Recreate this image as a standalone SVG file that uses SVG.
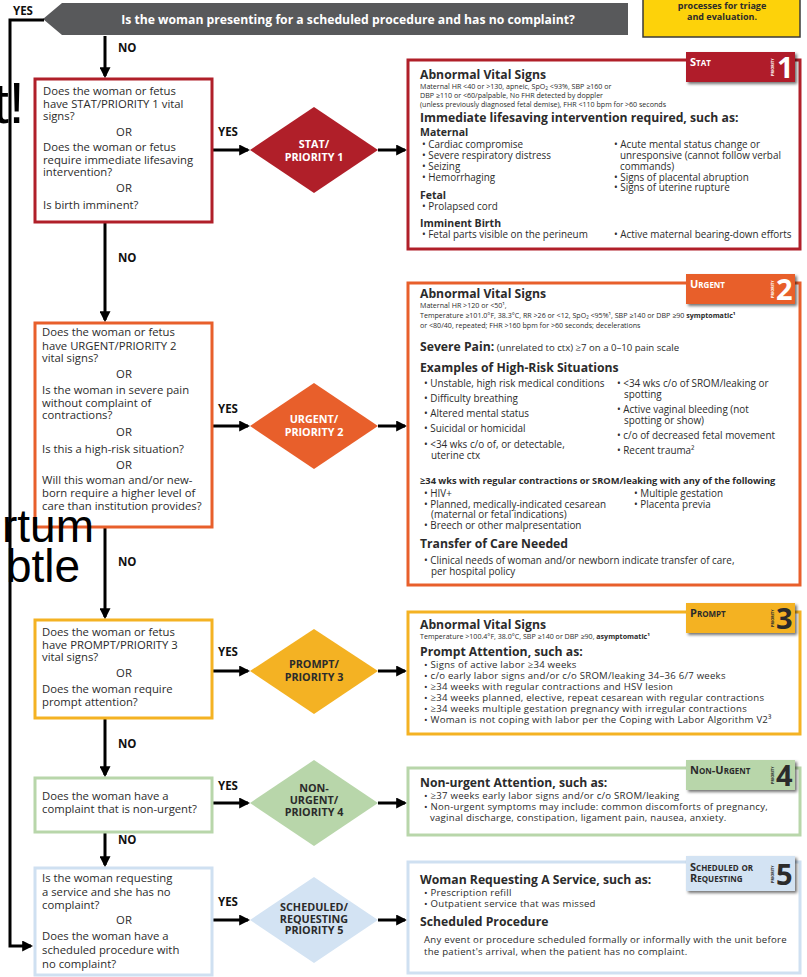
<svg xmlns="http://www.w3.org/2000/svg" width="807" height="977" viewBox="0 0 807 977">
<style>
text{font-family:"Open Sans","Liberation Sans",Arial,sans-serif;fill:#2b2b2b}
.q{font-size:11.3px}
.c{text-anchor:middle}
.h{font-size:12.2px;font-weight:bold}
.m{font-size:10.5px;font-weight:bold}
.s{font-size:7.1px}
.b{font-size:9.9px}
.p{font-size:9.6px;letter-spacing:0.25px}
.y{font-size:11.5px;font-weight:bold;fill:#111}
.dt{font-size:10.8px;font-weight:bold;text-anchor:middle}
.tl{font-size:11px;font-weight:bold;font-variant:small-caps}
.pr{font-size:3.8px;font-weight:bold}
.num{font-size:29px;font-weight:bold}
.ov{font-family:"Liberation Sans",Arial,sans-serif;fill:#000}
.ln{fill:none;stroke:#000;stroke-width:3}
.box{fill:#fff;stroke-width:3}
</style>
<defs>
<marker id="ah" viewBox="0 0 10 10" refX="8" refY="5" markerWidth="11" markerHeight="11" markerUnits="userSpaceOnUse" orient="auto">
<path d="M0,0 L10,5 L0,10 z" fill="#000"/>
</marker>
<filter id="sh" x="-10%" y="-20%" width="130%" height="150%">
<feDropShadow dx="2" dy="2" stdDeviation="1.6" flood-color="#000" flood-opacity="0.55"/>
</filter>
</defs>
<rect width="807" height="977" fill="#fff"/>

<g id="banner">
<path d="M43,19 L62,3 H628 V35 H62 Z" fill="#58595b"/>
<text x="348" y="23.5" class="c" style="font-size:12.2px;font-weight:bold;fill:#fff">Is the woman presenting for a scheduled procedure and has no complaint?</text>
</g>
<g id="note">
<rect x="643" y="-3" width="157" height="40" fill="#fdd20a" stroke="#3a3a3a" stroke-width="1.5"/>
<text x="722" y="9" class="c" style="font-size:9px;font-weight:bold;fill:#2b2b2b">processes for triage</text>
<text x="722" y="20" class="c" style="font-size:9px;font-weight:bold;fill:#2b2b2b">and evaluation.</text>
</g>

<g id="connectors">
<path class="ln" d="M44,20 H10 V946 H31" marker-end="url(#ah)"/>
<path class="ln" d="M105,36 V76" marker-end="url(#ah)"/>
<path class="ln" d="M105,222 V320" marker-end="url(#ah)"/>
<path class="ln" d="M105,528 V617" marker-end="url(#ah)"/>
<path class="ln" d="M105,719 V775" marker-end="url(#ah)"/>
<path class="ln" d="M105,833 V865" marker-end="url(#ah)"/>
<path class="ln" d="M213,150 H248" marker-end="url(#ah)"/>
<path class="ln" d="M213,426 H248" marker-end="url(#ah)"/>
<path class="ln" d="M213,671 H248" marker-end="url(#ah)"/>
<path class="ln" d="M213,803 H248" marker-end="url(#ah)"/>
<path class="ln" d="M213,920 H248" marker-end="url(#ah)"/>
<path class="ln" d="M378,150 H405" marker-end="url(#ah)"/>
<path class="ln" d="M378,426 H405" marker-end="url(#ah)"/>
<path class="ln" d="M378,671 H405" marker-end="url(#ah)"/>
<path class="ln" d="M378,803 H405" marker-end="url(#ah)"/>
<path class="ln" d="M378,920 H405" marker-end="url(#ah)"/>
<text x="13" y="15" class="y">YES</text>
<text x="118" y="52" class="y">NO</text>
<text x="118" y="262" class="y">NO</text>
<text x="118" y="566" class="y">NO</text>
<text x="118" y="748" class="y">NO</text>
<text x="118" y="844" class="y">NO</text>
<text x="218" y="136" class="y">YES</text>
<text x="218" y="413" class="y">YES</text>
<text x="218" y="656" class="y">YES</text>
<text x="218" y="790" class="y">YES</text>
<text x="218" y="906" class="y">YES</text>
</g>

<g id="q1">
<rect x="35" y="79" width="177" height="143" class="box" stroke="#b01f29"/>
<text class="q" x="43" y="95">Does the woman or fetus</text>
<text class="q" x="43" y="107.5">have STAT/PRIORITY 1 vital</text>
<text class="q" x="43" y="120">signs?</text>
<text class="q c" x="124" y="136">OR</text>
<text class="q" x="43" y="151">Does the woman or fetus</text>
<text class="q" x="43" y="163.5">require immediate lifesaving</text>
<text class="q" x="43" y="176">intervention?</text>
<text class="q c" x="124" y="192">OR</text>
<text class="q" x="43" y="209">Is birth imminent?</text>
</g>
<g id="d1">
<path d="M250,150 L314,107 L378,150 L314,193 Z" fill="#b01f29"/>
<text class="dt" x="314" y="148" style="fill:#fff">STAT/</text>
<text class="dt" x="314" y="160.5" style="fill:#fff">PRIORITY 1</text>
</g>
<g id="r1">
<rect x="408" y="60" width="392" height="189" class="box" stroke="#b01f29"/>
<text class="h" x="420" y="79">Abnormal Vital Signs</text>
<text class="s" x="420" y="88.5">Maternal HR &lt;40 or &gt;130, apneic, SpO<tspan font-size="4.8" dy="1.5">2</tspan><tspan dy="-1.5"> &lt;93%, SBP ≥160 or</tspan></text>
<text class="s" x="420" y="97.5">DBP ≥110 or &lt;60/palpable, No FHR detected by doppler</text>
<text class="s" x="420" y="106.5">(unless previously diagnosed fetal demise), FHR &lt;110 bpm for &gt;60 seconds</text>
<text class="h" x="420" y="122">Immediate lifesaving intervention required, such as:</text>
<text class="m" x="420" y="136">Maternal</text>
<text class="b" x="422" y="148">• Cardiac compromise</text>
<text class="b" x="422" y="159">• Severe respiratory distress</text>
<text class="b" x="422" y="170">• Seizing</text>
<text class="b" x="422" y="181">• Hemorrhaging</text>
<text class="b" x="614" y="148">• Acute mental status change or</text>
<text class="b" x="620" y="159">unresponsive (cannot follow verbal</text>
<text class="b" x="620" y="170">commands)</text>
<text class="b" x="614" y="181">• Signs of placental abruption</text>
<text class="b" x="614" y="191">• Signs of uterine rupture</text>
<text class="m" x="420" y="199">Fetal</text>
<text class="b" x="422" y="210">• Prolapsed cord</text>
<text class="m" x="420" y="227">Imminent Birth</text>
<text class="b" x="422" y="238">• Fetal parts visible on the perineum</text>
<text class="b" x="614" y="238">• Active maternal bearing-down efforts</text>
<rect x="686" y="52" width="109" height="30" fill="#b01f29" filter="url(#sh)"/>
<text class="tl" x="690" y="66" style="fill:#fff">Stat</text>
<text class="pr" transform="translate(774,76) rotate(-90)" style="fill:#fff">PRIORITY</text>
<text class="num" x="777" y="78" style="fill:#fff">1</text>
</g>

<g id="q2">
<rect x="35" y="323" width="177" height="204" class="box" stroke="#e85f2b"/>
<text class="q" x="42" y="336">Does the woman or fetus</text>
<text class="q" x="42" y="349.5">have URGENT/PRIORITY 2</text>
<text class="q" x="42" y="362">vital signs?</text>
<text class="q c" x="124" y="378">OR</text>
<text class="q" x="42" y="394">Is the woman in severe pain</text>
<text class="q" x="42" y="406.5">without complaint of</text>
<text class="q" x="42" y="419">contractions?</text>
<text class="q c" x="124" y="436">OR</text>
<text class="q" x="42" y="452.5">Is this a high-risk situation?</text>
<text class="q c" x="124" y="469">OR</text>
<text class="q" x="42" y="484">Will this woman and/or new-</text>
<text class="q" x="42" y="497">born require a higher level of</text>
<text class="q" x="42" y="510">care than institution provides?</text>
</g>
<g id="d2">
<path d="M250,426 L314,383 L378,426 L314,469 Z" fill="#e85f2b"/>
<text class="dt" x="314" y="423" style="fill:#fff">URGENT/</text>
<text class="dt" x="314" y="435.5" style="fill:#fff">PRIORITY 2</text>
</g>
<g id="r2">
<rect x="408" y="283" width="392" height="302" class="box" stroke="#e85f2b"/>
<text class="h" x="420" y="298">Abnormal Vital Signs</text>
<text class="s" x="420" y="307.5">Maternal HR &gt;120 or &lt;50¹,</text>
<text class="s" x="420" y="318">Temperature ≥101.0°F, 38.3°C, RR &gt;26 or &lt;12, SpO₂ &lt;95%¹, SBP ≥140 or DBP ≥90 <tspan font-weight="bold">symptomatic¹</tspan></text>
<text class="s" x="420" y="327.5">or &lt;80/40, repeated; FHR &gt;160 bpm for &gt;60 seconds; decelerations</text>
<text class="h" x="420" y="351">Severe Pain:<tspan style="font-size:9.6px;font-weight:normal"> (unrelated to ctx) ≥7 on a 0–10 pain scale</tspan></text>
<text class="h" x="420" y="372">Examples of High-Risk Situations</text>
<text class="b" x="424" y="387">• Unstable, high risk medical conditions</text>
<text class="b" x="424" y="402">• Difficulty breathing</text>
<text class="b" x="424" y="417">• Altered mental status</text>
<text class="b" x="424" y="432">• Suicidal or homicidal</text>
<text class="b" x="424" y="448">• &lt;34 wks c/o of, or detectable,</text>
<text class="b" x="431" y="459">uterine ctx</text>
<text class="b" x="617" y="387">• &lt;34 wks c/o of SROM/leaking or</text>
<text class="b" x="624" y="398">spotting</text>
<text class="b" x="617" y="413">• Active vaginal bleeding (not</text>
<text class="b" x="624" y="424">spotting or show)</text>
<text class="b" x="617" y="439">• c/o of decreased fetal movement</text>
<text class="b" x="617" y="454">• Recent trauma²</text>
<text x="420" y="484" style="font-size:9.3px;font-weight:bold">≥34 wks with regular contractions or SROM/leaking with any of the following</text>
<text class="b" x="424" y="497">•  HIV+</text>
<text class="b" x="424" y="507.5">•  Planned, medically-indicated cesarean</text>
<text class="b" x="431" y="518">(maternal or fetal indications)</text>
<text class="b" x="424" y="528.5">•  Breech or other malpresentation</text>
<text class="b" x="634" y="497">• Multiple gestation</text>
<text class="b" x="634" y="507.5">• Placenta previa</text>
<text class="h" x="420" y="548">Transfer of Care Needed</text>
<text class="b" x="424" y="564">•  Clinical needs of woman and/or newborn indicate transfer of care,</text>
<text class="b" x="431" y="575">per hospital policy</text>
<rect x="686" y="274" width="109" height="30" fill="#e85f2b" filter="url(#sh)"/>
<text class="tl" x="690" y="288" style="fill:#fff">Urgent</text>
<text class="pr" transform="translate(774,298) rotate(-90)" style="fill:#fff">PRIORITY</text>
<text class="num" x="776" y="300" style="fill:#fff">2</text>
</g>

<g id="q3">
<rect x="35" y="620" width="177" height="98" class="box" stroke="#f4b223"/>
<text class="q" x="42" y="636">Does the woman or fetus</text>
<text class="q" x="42" y="649">have PROMPT/PRIORITY 3</text>
<text class="q" x="42" y="661">vital signs?</text>
<text class="q c" x="124" y="677">OR</text>
<text class="q" x="42" y="693">Does the woman require</text>
<text class="q" x="42" y="706">prompt attention?</text>
</g>
<g id="d3">
<path d="M250,671 L314,629 L378,671 L314,714 Z" fill="#f4b223"/>
<text class="dt" x="314" y="668">PROMPT/</text>
<text class="dt" x="314" y="680.5">PRIORITY 3</text>
</g>
<g id="r3">
<rect x="408" y="612" width="392" height="122" class="box" stroke="#f4b223"/>
<text class="h" x="420" y="629">Abnormal Vital Signs</text>
<text class="s" x="420" y="638.5">Temperature &gt;100.4°F, 38.0°C, SBP ≥140 or DBP ≥90, <tspan font-weight="bold">asymptomatic¹</tspan></text>
<text class="h" x="420" y="656">Prompt Attention, such as:</text>
<text class="p" x="424" y="668">• Signs of active labor ≥34 weeks</text>
<text class="p" x="424" y="679">• c/o early labor signs and/or c/o SROM/leaking 34–36 6/7 weeks</text>
<text class="p" x="424" y="690">• ≥34 weeks with regular contractions and HSV lesion</text>
<text class="p" x="424" y="701">• ≥34 weeks planned, elective, repeat cesarean with regular contractions</text>
<text class="p" x="424" y="712">• ≥34 weeks multiple gestation pregnancy with irregular contractions</text>
<text class="p" x="424" y="723">• Woman is not coping with labor per the Coping with Labor Algorithm V2³</text>
<rect x="686" y="603" width="109" height="30" fill="#f4b223" filter="url(#sh)"/>
<text class="tl" x="690" y="617">Prompt</text>
<text class="pr" transform="translate(774,627) rotate(-90)">PRIORITY</text>
<text class="num" x="776" y="629">3</text>
</g>

<g id="q4">
<rect x="35" y="778" width="177" height="54" class="box" stroke="#b8d6aa"/>
<text class="q" x="42" y="800">Does the woman have a</text>
<text class="q" x="42" y="813">complaint that is non-urgent?</text>
</g>
<g id="d4">
<path d="M250,803 L314,760 L378,803 L314,846 Z" fill="#b8d6aa"/>
<text class="dt" x="314" y="792">NON-</text>
<text class="dt" x="314" y="804">URGENT/</text>
<text class="dt" x="314" y="816">PRIORITY 4</text>
</g>
<g id="r4">
<rect x="408" y="768" width="392" height="67" class="box" stroke="#b8d6aa"/>
<text class="h" x="420" y="787">Non-urgent Attention, such as:</text>
<text class="p" x="424" y="799">• ≥37 weeks early labor signs and/or c/o SROM/leaking</text>
<text class="p" x="424" y="810">• Non-urgent symptoms may include: common discomforts of pregnancy,</text>
<text class="p" x="430" y="821">vaginal discharge, constipation, ligament pain, nausea, anxiety.</text>
<rect x="686" y="760" width="109" height="30" fill="#b8d6aa" filter="url(#sh)"/>
<text class="tl" x="690" y="774">Non-Urgent</text>
<text class="pr" transform="translate(774,784) rotate(-90)">PRIORITY</text>
<text class="num" x="776" y="786">4</text>
</g>

<g id="q5">
<rect x="35" y="868" width="177" height="107" class="box" stroke="#cfe0f1"/>
<text class="q" x="42" y="882">Is the woman requesting</text>
<text class="q" x="42" y="896">a service and she has no</text>
<text class="q" x="42" y="909">complaint?</text>
<text class="q c" x="124" y="924">OR</text>
<text class="q" x="42" y="940">Does the woman have a</text>
<text class="q" x="42" y="954">scheduled procedure with</text>
<text class="q" x="42" y="968">no complaint?</text>
</g>
<g id="d5">
<path d="M250,920 L314,877 L378,920 L314,963 Z" fill="#d3e3f3"/>
<text class="dt" x="314" y="911">SCHEDULED/</text>
<text class="dt" x="314" y="922.5">REQUESTING</text>
<text class="dt" x="314" y="934">PRIORITY 5</text>
</g>
<g id="r5">
<rect x="408" y="862" width="392" height="111" class="box" stroke="#cfe0f1"/>
<text class="h" x="420" y="884">Woman Requesting A Service, such as:</text>
<text class="p" x="424" y="896">• Prescription refill</text>
<text class="p" x="424" y="907">• Outpatient service that was missed</text>
<text class="h" x="420" y="926">Scheduled Procedure</text>
<text class="p" x="424" y="943">Any event or procedure scheduled formally or informally with the unit before</text>
<text class="p" x="424" y="955">the patient's arrival, when the patient has no complaint.</text>
<rect x="686" y="856" width="109" height="35" fill="#d3e3f3" filter="url(#sh)"/>
<text class="tl" x="690" y="871">Scheduled or</text>
<text class="tl" x="690" y="882">Requesting</text>
<text class="pr" transform="translate(774,883) rotate(-90)">PRIORITY</text>
<text class="num" x="776" y="885">5</text>
</g>

<g id="overlay">
<text class="ov" x="-7" y="123" style="font-size:57px">t!</text>
<text class="ov" x="2" y="542" style="font-size:46px">rtum</text>
<text class="ov" x="6" y="582" style="font-size:46px">btle</text>
</g>
</svg>
